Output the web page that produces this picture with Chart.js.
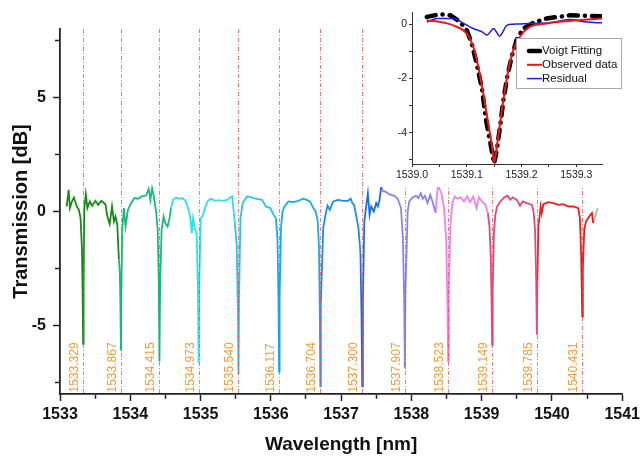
<!DOCTYPE html>
<html>
<head>
<meta charset="utf-8">
<script src="https://cdn.jsdelivr.net/npm/chart.js@4.4.1/dist/chart.umd.min.js"></script>
<style>
  body { margin: 0; background: #fff; }
  canvas { display: block; }
  #wrap { position: relative; width: 644px; height: 456px; }
  #inset-box { position: absolute; left: 376px; top: 0; width: 268px; height: 187px; background: #fff; }
</style>
</head>
<body>
<div id="wrap">
  <canvas id="main" width="644" height="456"></canvas>
  <div id="inset-box"><canvas id="inset" width="268" height="187"></canvas></div>
</div>
<script>
// resonance wavelengths (nm), marked with the dashed lines
const resonances = [1533.329, 1533.867, 1534.415, 1534.973, 1535.540, 1536.117, 1536.704,
                    1537.300, 1537.907, 1538.523, 1539.149, 1539.785, 1540.431];

// one sweep per colour: wavelength (nm) and transmission (dB)
const segWavelength = [
  [1533.095, 1533.123, 1533.141, 1533.165, 1533.198, 1533.24, 1533.268, 1533.292, 1533.312, 1533.322, 1533.329, 1533.336, 1533.345, 1533.367, 1533.39, 1533.424, 1533.457, 1533.504, 1533.542, 1533.589, 1533.646, 1533.674, 1533.707, 1533.74, 1533.768, 1533.79, 1533.815, 1533.838],
  [1533.838, 1533.85, 1533.86, 1533.867, 1533.874, 1533.886, 1533.909, 1533.933, 1533.966, 1534.013, 1534.06, 1534.107, 1534.163, 1534.225, 1534.262, 1534.286, 1534.31, 1534.333, 1534.367, 1534.39, 1534.405, 1534.415, 1534.425, 1534.446, 1534.474, 1534.498, 1534.531, 1534.559, 1534.579],
  [1534.579, 1534.61, 1534.65, 1534.7, 1534.75, 1534.79, 1534.837, 1534.861, 1534.875, 1534.894, 1534.918, 1534.945, 1534.963, 1534.973, 1534.983, 1535.003, 1535.025, 1535.064, 1535.1, 1535.144, 1535.215, 1535.26, 1535.308, 1535.379, 1535.426, 1535.45, 1535.464, 1535.488],
  [1535.488, 1535.515, 1535.532, 1535.540, 1535.548, 1535.567, 1535.6, 1535.661, 1535.709, 1535.78, 1535.874, 1535.93, 1535.992, 1536.039, 1536.072],
  [1536.072, 1536.095, 1536.109, 1536.117, 1536.125, 1536.145, 1536.166, 1536.194, 1536.25, 1536.32, 1536.39, 1536.46, 1536.51, 1536.557, 1536.604, 1536.637, 1536.665, 1536.685, 1536.697, 1536.704, 1536.712],
  [1536.712, 1536.745, 1536.778, 1536.806, 1536.839, 1536.887, 1536.958, 1537.028, 1537.099, 1537.137, 1537.16, 1537.184, 1537.213, 1537.247, 1537.275],
  [1537.275, 1537.29, 1537.300, 1537.31, 1537.33, 1537.357, 1537.381, 1537.405, 1537.428, 1537.466, 1537.499, 1537.523, 1537.547, 1537.57],
  [1537.57, 1537.594, 1537.627, 1537.688, 1537.759, 1537.806, 1537.852, 1537.88, 1537.898, 1537.907, 1537.916, 1537.947, 1537.97, 1538.018, 1538.065, 1538.098, 1538.135, 1538.16, 1538.192, 1538.23, 1538.268, 1538.3, 1538.333, 1538.345],
  [1538.345, 1538.36, 1538.375, 1538.395, 1538.427, 1538.465, 1538.495, 1538.513, 1538.523, 1538.533, 1538.555, 1538.583, 1538.616, 1538.654, 1538.701, 1538.748, 1538.795, 1538.833, 1538.88, 1538.927, 1538.96, 1539.007, 1539.054, 1539.088],
  [1539.088, 1539.11, 1539.13, 1539.141, 1539.149, 1539.157, 1539.175, 1539.195, 1539.219, 1539.266, 1539.322, 1539.37, 1539.407, 1539.442, 1539.5, 1539.546, 1539.585, 1539.643, 1539.714, 1539.738, 1539.76, 1539.776, 1539.785, 1539.793],
  [1539.793, 1539.808, 1539.822, 1539.84, 1539.855, 1539.879, 1539.95, 1540.02, 1540.09, 1540.162, 1540.233, 1540.304, 1540.374, 1540.398, 1540.415, 1540.425, 1540.431, 1540.44, 1540.46, 1540.484, 1540.53, 1540.569, 1540.587],
  [1540.587, 1540.652]
];
const segTransmission = [
  [0.22, 0.95, 0.15, 0.4, 0.61, 0.22, 0.07, -0.28, -1.6, -3.6, -5.8, -3.2, 0.1, 0.76, 0.15, 0.44, 0.25, 0.47, 0.29, 0.47, 0.32, -0.22, -0.55, 0.22, -0.44, -0.22, -0.58, -2.1],
  [-2.1, -2.6, -4.2, -6.1, -3.4, -0.8, 0.15, -0.66, 0.07, 0.37, 0.59, 0.56, 0.66, 0.70, 0.99, 0.51, 1.02, 0.70, 0.0, -0.8, -3.0, -6.58, -3.2, -0.8, -0.22, -0.51, -0.66, -0.29, 0.15],
  [0.15, 0.51, 0.6, 0.56, 0.58, 0.44, 0.0, -0.44, -0.95, -0.29, -0.73, -1.0, -3.5, -6.65, -3.0, -0.29, -0.22, 0.15, 0.45, 0.56, 0.47, 0.5, 0.47, 0.51, 0.62, 0.66, 0.22, -0.5],
  [-0.5, -1.5, -4.5, -7.16, -3.8, -0.29, 0.37, 0.66, 0.64, 0.56, 0.51, 0.22, 0.15, -0.15, -0.29],
  [-0.29, -1.2, -4.0, -7.02, -3.8, -0.7, 0.0, 0.22, 0.44, 0.41, 0.47, 0.56, 0.51, 0.44, 0.15, 0.0, -0.36, -1.5, -4.5, -7.67, -4.0],
  [-4.0, -0.73, -0.15, 0.26, 0.07, 0.44, 0.51, 0.47, 0.47, 0.56, 0.37, 0.29, -0.15, -0.73, -1.8],
  [-1.8, -4.5, -7.67, -4.0, -0.44, 0.22, 0.8, -0.15, 0.22, 0.0, 0.37, 0.22, 0.5, 1.1],
  [1.1, 0.88, 0.88, 0.75, 0.69, 0.56, 0.15, -1.2, -4.0, -6.87, -3.5, 0.0, 0.44, 0.62, 0.69, 0.59, 0.8, 0.56, 0.69, 0.37, 0.73, 0.44, 0.07, -0.05],
  [-0.05, 0.6, 1.05, 1.02, 0.8, 0.15, -1.2, -4.0, -6.58, -3.5, -0.6, 0.37, 0.66, 0.56, 0.62, 0.44, 0.66, 0.41, 0.66, 0.15, 0.62, 0.44, 0.29, -0.07],
  [-0.07, -0.6, -2.0, -4.0, -5.85, -3.5, -0.9, -0.15, 0.22, 0.44, 0.62, 0.69, 0.51, 0.62, 0.51, 0.25, 0.44, 0.37, 0.29, 0.0, -0.8, -3.0, -5.4, -3.0],
  [-3.0, -0.6, -0.29, 0.22, -0.07, 0.32, 0.41, 0.37, 0.29, 0.32, 0.22, 0.22, 0.15, -0.29, -1.8, -3.5, -4.6, -2.5, -0.8, -0.44, -0.22, -0.07, -0.51],
  [-0.51, 0.15]
];
const segColors = ['#188a18', '#1db97a', '#2de0ea', '#22c6ee', '#1ca8f0', '#1b8cea', '#1f6fe2',
                   '#8a82ec', '#f27ff0', '#e8467c', '#ee1c1c', '#b4b4b4'];

// inset: single resonance near 1539.15 nm
const voigtWl = [1539.027, 1539.052, 1539.07, 1539.088, 1539.1, 1539.109, 1539.118, 1539.128, 1539.135, 1539.143, 1539.149, 1539.15, 1539.155, 1539.161, 1539.167, 1539.174, 1539.182, 1539.191, 1539.203, 1539.221, 1539.246, 1539.288, 1539.347];
const voigtDb = [0.27, 0.37, 0.33, 0.08, -0.22, -0.71, -1.44, -2.41, -3.51, -4.36, -5.03, -5.13, -4.61, -3.75, -2.78, -1.93, -1.2, -0.59, -0.16, 0.05, 0.21, 0.33, 0.29];
const observedWl = [1539.027, 1539.064, 1539.082, 1539.1, 1539.112, 1539.121, 1539.13, 1539.14, 1539.146, 1539.15, 1539.155, 1539.161, 1539.167, 1539.176, 1539.185, 1539.197, 1539.215, 1539.246, 1539.288, 1539.347];
const observedDb = [0.15, 0.03, -0.1, -0.34, -0.83, -1.56, -2.53, -3.75, -4.49, -5.09, -4.49, -3.63, -2.78, -1.68, -0.95, -0.46, -0.1, 0.03, 0.12, 0.21];
const residualWl = [1539.027, 1539.046, 1539.076, 1539.094, 1539.112, 1539.128, 1539.137, 1539.143, 1539.149, 1539.154, 1539.16, 1539.166, 1539.173, 1539.185, 1539.215, 1539.252, 1539.288, 1539.319, 1539.347];
const residualDb = [0.08, 0.21, 0.21, 0.03, -0.16, -0.28, -0.4, -0.28, -0.16, -0.28, -0.44, -0.28, -0.04, 0.0, 0.03, 0.05, 0.17, 0.08, 0.05];

const FONT = '"Liberation Sans", Arial, sans-serif';
Chart.defaults.font.family = FONT;
Chart.defaults.color = '#111';

const toPoints = (xs, ys) => xs.map((x, i) => ({x: x, y: ys[i]}));

const resonancePlugin = {
  id: 'resonances',
  afterDatasetsDraw(chart) {
    const {ctx, chartArea, scales} = chart;
    ctx.save();
    resonances.forEach(r => {
      const px = Math.round(scales.x.getPixelForValue(r)) + 0.5;
      ctx.strokeStyle = 'rgba(235,70,70,0.7)';
      ctx.lineWidth = 1;
      ctx.setLineDash([4, 2, 1, 2]);
      ctx.beginPath();
      ctx.moveTo(px, chartArea.top);
      ctx.lineTo(px, chartArea.bottom);
      ctx.stroke();

      ctx.save();
      ctx.translate(px - 9, chartArea.bottom - 1.5);
      ctx.rotate(-Math.PI / 2);
      ctx.font = '12px ' + FONT;
      ctx.fillStyle = '#f29b38';
      ctx.textAlign = 'left';
      ctx.textBaseline = 'middle';
      ctx.fillText(r.toFixed(3), 0, 0);
      ctx.restore();
    });
    ctx.restore();
  }
};

new Chart(document.getElementById('main'), {
  type: 'line',
  data: {
    datasets: segWavelength.map((wl, i) => ({
      data: toPoints(wl, segTransmission[i]),
      borderColor: segColors[i],
      borderWidth: 1.8,
      pointRadius: 0,
      fill: false
    }))
  },
  options: {
    responsive: false,
    animation: false,
    layout: {padding: {top: 29, right: 18, left: 0, bottom: 0}},
    plugins: {legend: {display: false}, tooltip: {enabled: false}},
    scales: {
      x: {
        type: 'linear',
        min: 1533,
        max: 1541,
        afterFit(scale) { scale.height = 62; },
        border: {color: '#222', width: 1.8},
        grid: {
          drawOnChartArea: false,
          tickLength: 7,
          tickWidth: 1.5,
          tickColor: '#222',
          tickBorderDash: ctx => Number.isInteger(ctx.tick.value) ? [] : [4, 20]
        },
        ticks: {
          stepSize: 0.5,
          autoSkip: false,
          maxRotation: 0,
          minRotation: 0,
          padding: 4,
          color: '#111',
          font: {size: 16, weight: 'bold'},
          callback: v => Number.isInteger(v) ? String(v) : ''
        },
        title: {
          display: true,
          text: 'Wavelength [nm]',
          color: '#111',
          font: {size: 19, weight: 'bold'},
          padding: {top: 0, bottom: 0}
        }
      },
      y: {
        type: 'linear',
        min: -8,
        max: 8,
        afterFit(scale) { scale.width = 60; },
        border: {color: '#222', width: 1.8},
        grid: {
          drawOnChartArea: false,
          tickLength: 7,
          tickWidth: 1.5,
          tickColor: '#222',
          tickBorderDash: ctx => ctx.tick.value % 5 === 0 ? [] : [0, 2, 5, 20]
        },
        ticks: {
          stepSize: 2.5,
          includeBounds: false,
          padding: 7,
          color: '#111',
          font: {size: 16, weight: 'bold'},
          callback: v => v % 5 === 0 ? String(v) : ''
        },
        title: {
          display: true,
          text: 'Transmission [dB]',
          color: '#111',
          font: {size: 20, weight: 'bold'},
          padding: {top: 9, bottom: 0}
        }
      }
    }
  },
  plugins: [resonancePlugin]
});

const insetLegend = {
  id: 'insetLegend',
  afterDraw(chart) {
    const {ctx} = chart;
    ctx.save();
    ctx.fillStyle = '#fff';
    ctx.strokeStyle = '#aaa';
    ctx.lineWidth = 1;
    ctx.fillRect(140.5, 38.5, 105, 50);
    ctx.strokeRect(140.5, 38.5, 105, 50);
    chart.data.datasets.forEach((ds, i) => {
      const y = 51 + i * 13.8;
      ctx.strokeStyle = ds.borderColor;
      ctx.lineWidth = ds.borderWidth;
      ctx.lineCap = i === 0 ? 'round' : 'butt';
      ctx.beginPath();
      ctx.moveTo(i === 0 ? 153 : 151, y);
      ctx.lineTo(i === 0 ? 164 : 166, y);
      ctx.stroke();
      ctx.fillStyle = '#111';
      ctx.font = '11.5px ' + FONT;
      ctx.textBaseline = 'middle';
      ctx.fillText(ds.label, 166, y);
    });
    ctx.restore();
  }
};

new Chart(document.getElementById('inset'), {
  type: 'line',
  data: {
    datasets: [
      {label: 'Voigt Fitting', data: toPoints(voigtWl, voigtDb), borderColor: '#000', borderWidth: 4.5,
       borderDash: [9, 7, 0.1, 7], borderCapStyle: 'round', pointRadius: 0, order: 3},
      {label: 'Observed data', data: toPoints(observedWl, observedDb), borderColor: '#ee1414', borderWidth: 2,
       pointRadius: 0, cubicInterpolationMode: 'monotone', order: 1},
      {label: 'Residual', data: toPoints(residualWl, residualDb), borderColor: '#1c1cee', borderWidth: 1.5,
       pointRadius: 0, cubicInterpolationMode: 'monotone', order: 2}
    ]
  },
  options: {
    responsive: false,
    animation: false,
    layout: {padding: {top: 12, right: 42, left: 0, bottom: 0}},
    plugins: {legend: {display: false}, tooltip: {enabled: false}},
    scales: {
      x: {
        type: 'linear',
        min: 1539.0,
        max: 1539.347,
        afterFit(scale) { scale.height = 23; },
        border: {color: '#333', width: 1},
        grid: {drawOnChartArea: false, tickLength: 3, tickColor: '#333'},
        ticks: {
          stepSize: 0.05,
          includeBounds: false,
          autoSkip: false,
          maxRotation: 0,
          minRotation: 0,
          padding: 2,
          color: '#222',
          font: {size: 10.5},
          callback: v => Math.abs(v * 10 - Math.round(v * 10)) < 1e-6 ? v.toFixed(1) : ''
        }
      },
      y: {
        type: 'linear',
        min: -5.15,
        max: 0.45,
        afterFit(scale) { scale.width = 36; },
        border: {color: '#333', width: 1},
        grid: {drawOnChartArea: false, tickLength: 3, tickColor: '#333'},
        ticks: {
          stepSize: 1,
          includeBounds: false,
          padding: 2,
          color: '#222',
          font: {size: 10.5},
          callback: v => v % 2 === 0 ? String(v) : ''
        }
      }
    }
  },
  plugins: [insetLegend]
});
</script>
</body>
</html>
